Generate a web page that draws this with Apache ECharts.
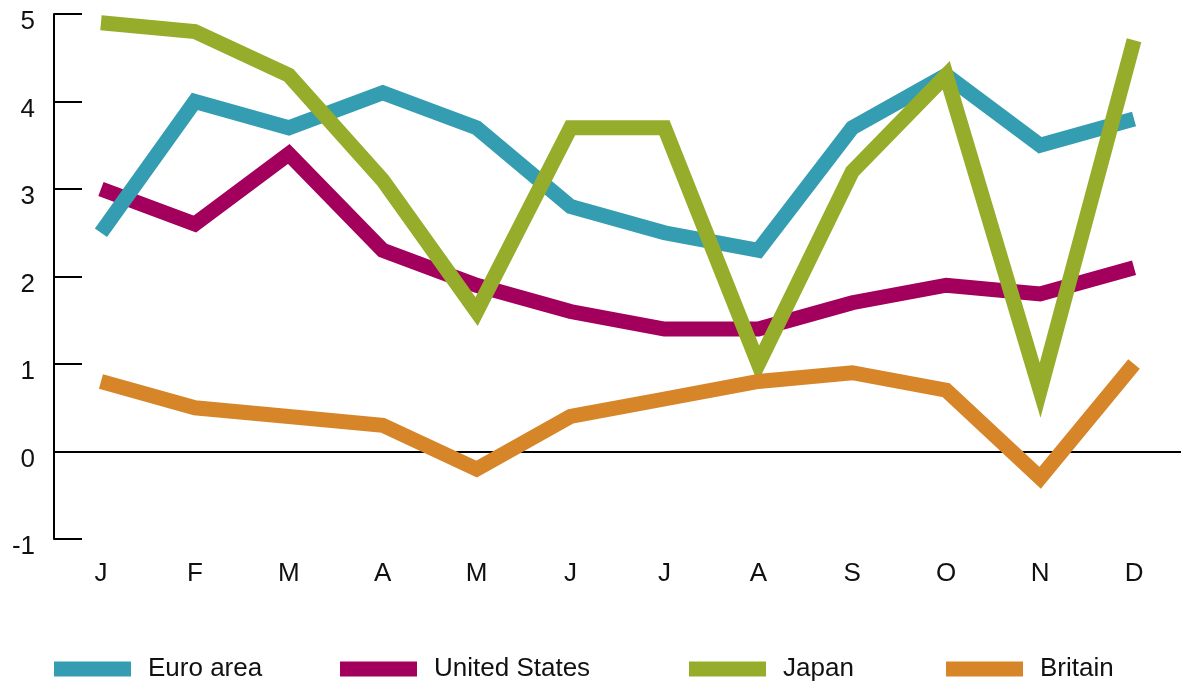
<!DOCTYPE html>
<html>
<head>
<meta charset="utf-8">
<script src="https://cdn.jsdelivr.net/npm/echarts@6/dist/echarts.min.js"></script>
<style>
  html, body { margin: 0; padding: 0; background: #fff; }
  #chart { width: 1181px; height: 686px; }
</style>
</head>
<body>
<div id="chart"></div>
<script>
// data
var months = ['J', 'F', 'M', 'A', 'M', 'J', 'J', 'A', 'S', 'O', 'N', 'D'];
var euroArea = [2.5, 4.0, 3.7, 4.1, 3.7, 2.8, 2.5, 2.3, 3.7, 4.3, 3.5, 3.8];
var unitedStates = [3.0, 2.6, 3.4, 2.3, 1.9, 1.6, 1.4, 1.4, 1.7, 1.9, 1.8, 2.1];
var japan = [4.9, 4.8, 4.3, 3.1, 1.6, 3.7, 3.7, 1.0, 3.2, 4.3, 0.7, 4.7];
var britain = [0.8, 0.5, 0.4, 0.3, -0.2, 0.4, 0.6, 0.8, 0.9, 0.7, -0.3, 1.0];

var FONT = '"Liberation Sans", Arial, sans-serif';
var chart = echarts.init(document.getElementById('chart'));

function legendAt(name, left) {
    return {
        data: [name],
        left: left,
        top: 656,
        padding: 0,
        icon: 'rect',
        itemWidth: 77,
        itemHeight: 15,
        selectedMode: false,
        textStyle: { fontFamily: FONT, fontSize: 26, color: '#111', padding: [0, 0, 0, 12] }
    };
}

function line(name, data, color, z) {
    return {
        name: name,
        type: 'line',
        data: data,
        z: z,
        symbol: 'none',
        color: color,
        animation: false,
        lineStyle: { width: 15, color: color, join: 'miter', cap: 'butt' }
    };
}

chart.setOption({
    backgroundColor: '#fff',
    grid: { left: 54, right: 0, top: 14, bottom: 147 },
    legend: [
        legendAt('Euro area', 54),
        legendAt('United States', 340),
        legendAt('Japan', 689),
        legendAt('Britain', 946)
    ],
    xAxis: {
        type: 'category',
        data: months,
        boundaryGap: true,
        axisLine: { onZero: true, lineStyle: { color: '#000', width: 2 } },
        axisTick: { inside: true, length: 12, lineStyle: { color: '#000', width: 2 } },
        axisLabel: { margin: 22, fontFamily: FONT, fontSize: 26, color: '#111' },
        splitLine: { show: false }
    },
    yAxis: {
        type: 'value',
        min: -1,
        max: 5,
        interval: 1,
        axisLine: { show: true, lineStyle: { color: '#000', width: 2 } },
        axisTick: { show: true, inside: true, length: 28, lineStyle: { color: '#000', width: 2 } },
        axisLabel: { margin: 19, fontFamily: FONT, fontSize: 26, color: '#111', verticalAlign: 'top', lineHeight: 16 },
        splitLine: { show: false }
    },
    series: [
        line('Euro area', euroArea, '#349db2', 3),
        line('United States', unitedStates, '#a2005c', 2),
        line('Japan', japan, '#96ad2b', 4),
        line('Britain', britain, '#d68628', 5)
    ]
});
</script>
</body>
</html>
